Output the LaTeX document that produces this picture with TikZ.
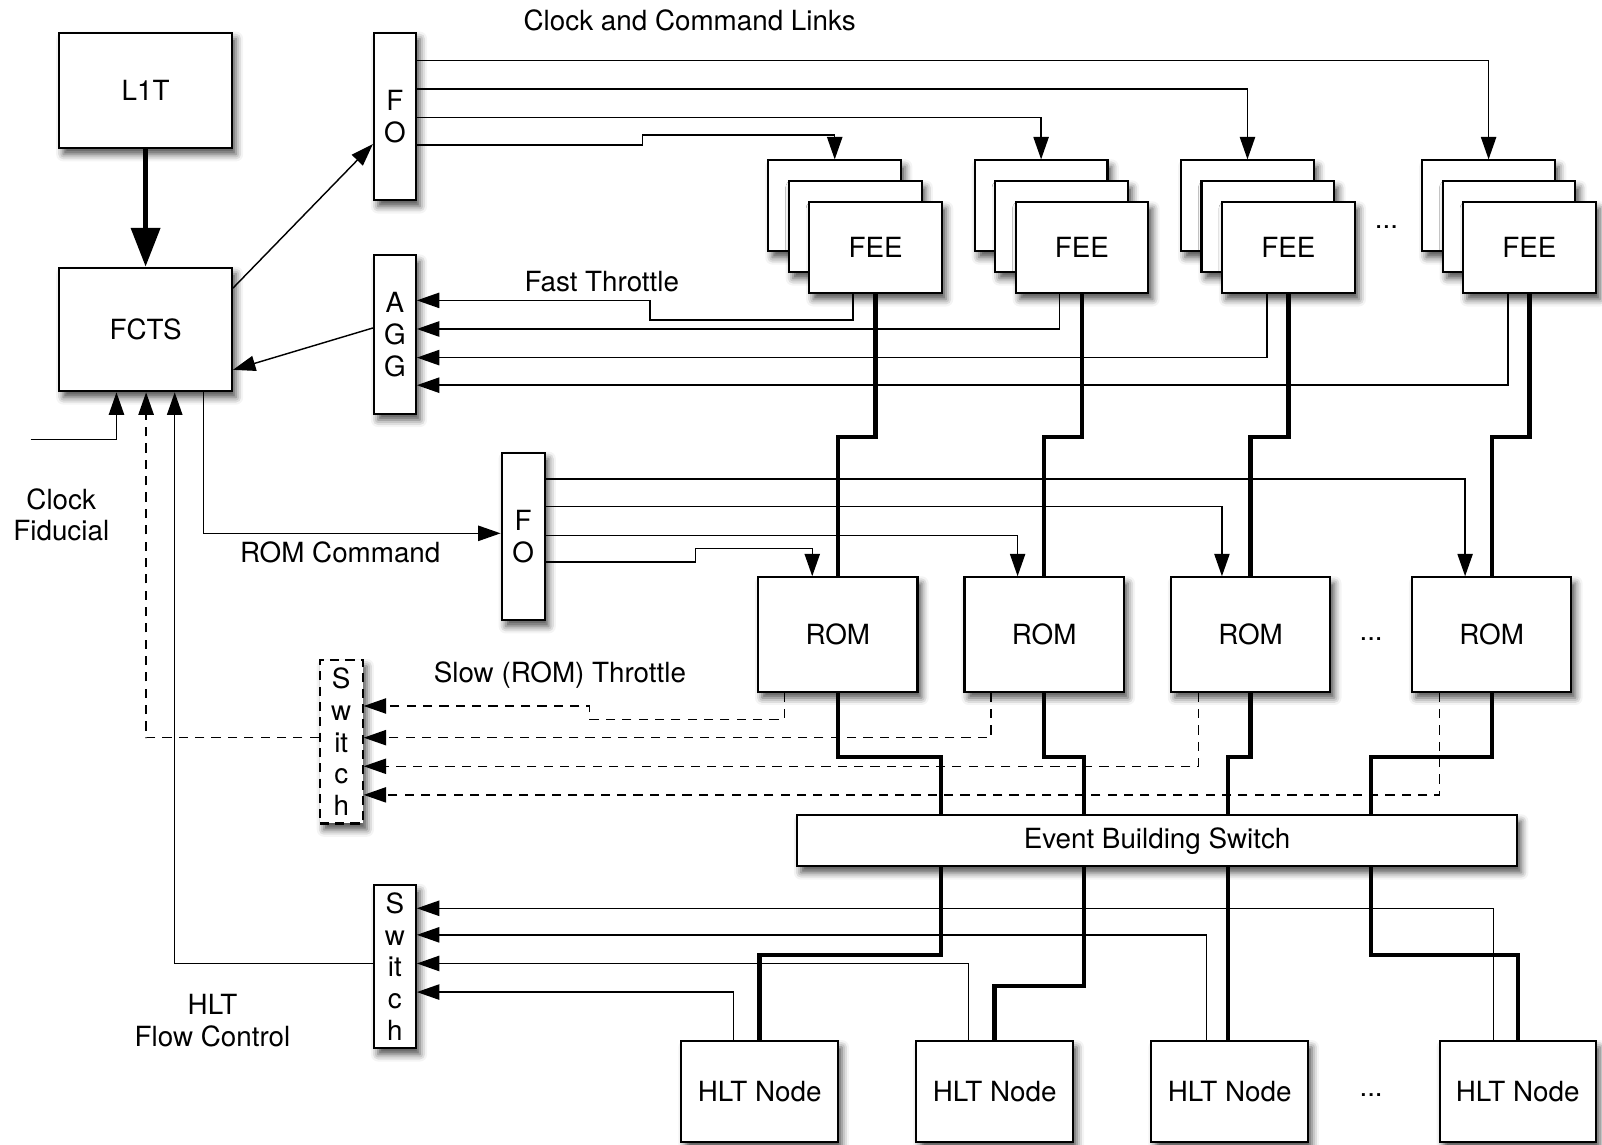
\documentclass[tikz,border=0pt]{standalone}
\usepackage{fontspec}
\setmainfont{TeX Gyre Heros}
\usepackage{tikz}
\usetikzlibrary{calc, arrows.meta, shadows.blur}

\begin{document}
\begin{tikzpicture}[x=0.5pt, y=-0.5pt,
    font=\fontsize{13.6}{15.5}\selectfont,
    box/.style={draw, fill=white, line width=1pt, inner sep=0pt,
      blur shadow={shadow xshift=2pt, shadow yshift=-3pt, shadow blur radius=3.5pt, shadow opacity=70}},
    fan/.style={box, minimum width=20.5pt, minimum height=82pt, align=center},
    feebox/.style={box, minimum width=65pt, minimum height=44.5pt},
    rombox/.style={box, minimum width=78pt, minimum height=56pt},
    hltbox/.style={box, minimum width=76.5pt, minimum height=49.5pt},
    arr/.style={line width=0.7pt, -{Triangle[length=11pt,width=7.5pt]}},
    slow/.style={arr, dash pattern=on 4.5pt off 3.5pt},
    data/.style={line width=2.1pt},
    lbl/.style={inner sep=0pt, align=center}]
    \useasboundingbox (0,0) rectangle (1568,1120);
    %the trigger boxes
    \node[box, minimum width=84.5pt, minimum height=56.5pt] (l1t) at (142.5,88.5) {L1T};
    \node[box, minimum width=84.5pt, minimum height=60.5pt] (fcts) at (142.5,322.5) {FCTS};
    \node[fan] (fo1) at (386.5,114) {F\\O};
    \node[fan, minimum height=77.5pt] (agg) at (386.5,327.5) {A\\G\\G};
    \node[fan, minimum width=21pt] (fo2) at (512,525) {F\\O};
    \node[fan, dash pattern=on 4.5pt off 3pt, minimum width=21pt, minimum height=80pt] (sw1) at (334,726) {S\\w\\it\\c\\h};
    \node[fan, minimum height=80pt] (sw2) at (386.5,946) {S\\w\\it\\c\\h};
    %the front ends, readout and farm
    \foreach \n/\x in {A/857, B/1059, C/1261, D/1497} {
        \node[feebox] (fee\n3) at (\x-40,201.5) {};
        \node[feebox] (fee\n2) at (\x-20,222) {};
        \node[feebox] (fee\n1) at (\x,242.5) {FEE};
    }
    \foreach \n/\x in {1/820, 2/1022, 3/1224, 4/1460}
        \node[rombox] (rom\n) at (\x,621) {ROM};
    \node[box, minimum width=352.5pt, minimum height=25pt] (ebs) at (1132.5,823) {Event Building Switch};
    \foreach \n/\x in {1/743.5, 2/973.5, 3/1203.5, 4/1485.5}
        \node[hltbox] (hlt\n) at (\x,1068.5) {HLT Node};
    %legends
    \node[lbl] (cclinks) at (675,20) {Clock and Command Links};
    \node[lbl] (fastlbl) at (589,276) {Fast Throttle};
    \node[lbl] (romcmd) at (333,541) {ROM Command};
    \node[lbl] (slowlbl) at (548,661) {Slow (ROM) Throttle};
    \node[lbl] (clklbl) at (60,504) {Clock\\Fiducial};
    \node[lbl] (hltlbl) at (208,999) {HLT\\Flow Control};
    \node[lbl] (dotsfee) at (1357,222) {...};
    \node[lbl] (dotsrom) at (1342,625) {...};
    \node[lbl] (dotshlt) at (1342,1072) {...};
    \coordinate (clkin) at (30,430);
    %the FCTS links
    \draw[line width=2.5pt, -{Triangle[length=19pt,width=14pt]}] (l1t) -- (fcts);
    \draw[arr] ([yshift=-10.5pt]fcts.north east) -- ([yshift=-55pt]fo1.north west);
    \draw[arr] ([yshift=-36pt]agg.north west) -- ([yshift=-50.5pt]fcts.north east);
    \draw[arr] ([xshift=71pt]fcts.south west) |- ([yshift=-40pt]fo2.north west);
    \draw[arr] (clkin) -| ([xshift=28.5pt]fcts.south west);
    \draw[slow] ([yshift=-38.5pt]sw1.north west) -| ([xshift=43pt]fcts.south west);
    \draw[arr] ([yshift=-39pt]sw2.north west) -| ([xshift=57pt]fcts.south west);
    %clock and command to the FEEs
    \draw[arr] ([yshift=-14pt]fo1.north east) -| (feeD3.north);
    \draw[arr] ([yshift=-28pt]fo1.north east) -| (feeC3.north);
    \draw[arr] ([yshift=-42pt]fo1.north east) -| (feeB3.north);
    \draw[arr] ([yshift=-55.5pt]fo1.north east) -| ++(110.5pt,5pt) -| (feeA3.north);
    %fast throttle
    \draw[arr] ([xshift=-11pt]feeA1.south) |- ++(-99.5pt,-12.5pt) |- ([yshift=-22.5pt]agg.north east);
    \draw[arr] ([xshift=-11pt]feeB1.south) |- ([yshift=-36.5pt]agg.north east);
    \draw[arr] ([xshift=-10.5pt]feeC1.south) |- ([yshift=-50.5pt]agg.north east);
    \draw[arr] ([xshift=-10.5pt]feeD1.south) |- ([yshift=-64pt]agg.north east);
    %data from FEE to ROM
    \foreach \n/\m in {A/1, B/2, C/3, D/4}
        \draw[data] (fee\n1.south) -- ++(0,-70pt) -| (rom\m.north);
    %ROM command
    \draw[arr] ([yshift=-13.5pt]fo2.north east) -| ([xshift=-13pt]rom4.north);
    \draw[arr] ([yshift=-27pt]fo2.north east) -| ([xshift=-14pt]rom3.north);
    \draw[arr] ([yshift=-41pt]fo2.north east) -| ([xshift=-13pt]rom2.north);
    \draw[arr] ([yshift=-54pt]fo2.north east) -| ++(73.5pt,6.5pt) -| ([xshift=-12.5pt]rom1.north);
    %slow throttle
    \draw[slow] ([xshift=-26pt]rom1.south) |- ++(-95.5pt,-13pt) |- ([yshift=-23pt]sw1.north east);
    \draw[slow] ([xshift=-26pt]rom2.south) |- ([yshift=-38.5pt]sw1.north east);
    \draw[slow] ([xshift=-25.5pt]rom3.south) |- ([yshift=-52.5pt]sw1.north east);
    \draw[slow] ([xshift=-25.5pt]rom4.south) |- ([yshift=-66.5pt]sw1.north east);
    %event building
    \draw[data] (rom1.south) -- ++(0,-31.5pt) -| ([xshift=71pt]ebs.north west);
    \draw[data] (rom2.south) -- ++(0,-31.5pt) -| ([xshift=141pt]ebs.north west);
    \draw[data] (rom3.south) -- ++(0,-31.5pt) -| ([xshift=211.5pt]ebs.north west);
    \draw[data] (rom4.south) -- ++(0,-31.5pt) -| ([xshift=281.5pt]ebs.north west);
    \draw[data] ([xshift=71pt]ebs.south west) -- ++(0,-43pt) -| (hlt1.north);
    \draw[data] ([xshift=141pt]ebs.south west) -- ++(0,-58pt) -| (hlt2.north);
    \draw[data] ([xshift=211.5pt]ebs.south west) -- ([xshift=211.5pt]ebs.south west |- hlt3.north);
    \draw[data] ([xshift=281.5pt]ebs.south west) -- ++(0,-43pt) -| (hlt4.north);
    %HLT flow control
    \draw[arr] ([xshift=-12.75pt]hlt1.north) |- ([yshift=-53pt]sw2.north east);
    \draw[arr] ([xshift=-12.75pt]hlt2.north) |- ([yshift=-39pt]sw2.north east);
    \draw[arr] ([xshift=-11.25pt]hlt3.north) |- ([yshift=-25pt]sw2.north east);
    \draw[arr] ([xshift=-11.75pt]hlt4.north) |- ([yshift=-12pt]sw2.north east);
\end{tikzpicture}
\end{document}
